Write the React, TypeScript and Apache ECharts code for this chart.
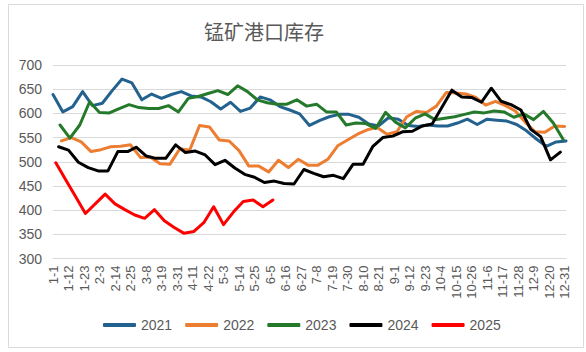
import React, { useEffect, useRef } from "react";
import * as echarts from "echarts";

const tickLabels = ["1-1","1-12","1-23","2-3","2-14","2-25","3-8","3-19","3-31","4-11","4-22","5-3","5-14","5-25","6-5","6-16","6-27","7-8","7-19","7-30","8-10","8-21","9-1","9-12","9-23","10-4","10-15","10-26","11-6","11-17","11-28","12-9","12-20","12-31"];

const dates2021 = ["1-1","1-8","1-15","1-22","1-29","2-5","2-12","2-19","2-26","3-5","3-12","3-19","3-26","4-2","4-9","4-16","4-23","4-30","5-7","5-14","5-21","5-28","6-4","6-11","6-18","6-25","7-2","7-9","7-16","7-23","7-30","8-6","8-13","8-20","8-27","9-3","9-10","9-17","9-24","10-1","10-8","10-15","10-22","10-29","11-5","11-12","11-19","11-26","12-3","12-10","12-17","12-24","12-31"];
const values2021 = [639,603,614,645,616,621,647,671,663,628,640,631,639,645,636,634,624,609,623,604,611,634,628,614,607,599,575,585,593,598,598,592,578,574,591,588,575,573,576,574,574,580,588,577,588,586,584,577,564,547,532,541,543];

const dates2022 = ["1-7","1-14","1-21","1-28","2-4","2-11","2-18","2-25","3-4","3-11","3-18","3-25","4-1","4-8","4-15","4-22","4-29","5-6","5-13","5-20","5-27","6-3","6-10","6-17","6-24","7-1","7-8","7-15","7-22","7-29","8-5","8-12","8-19","8-26","9-2","9-9","9-16","9-23","9-30","10-7","10-14","10-21","10-28","11-4","11-11","11-18","11-25","12-2","12-9","12-16","12-23","12-30"];
const values2022 = [543,550,541,521,525,531,532,535,509,510,496,495,527,524,575,572,545,543,523,491,491,479,503,488,505,493,493,505,533,545,557,566,571,557,562,593,604,602,615,643,642,640,633,617,625,616,605,582,562,561,574,573];

const dates2023 = ["1-6","1-13","1-20","1-27","2-3","2-10","2-17","2-24","3-3","3-10","3-17","3-24","3-31","4-7","4-14","4-21","4-28","5-5","5-12","5-19","5-26","6-2","6-9","6-16","6-23","6-30","7-7","7-14","7-21","7-28","8-4","8-11","8-18","8-25","9-1","9-8","9-15","9-22","9-29","10-6","10-13","10-20","10-27","11-3","11-10","11-17","11-24","12-1","12-8","12-15","12-22","12-29"];
const values2023 = [576,549,576,624,602,601,610,618,612,610,610,616,603,631,635,641,647,639,657,645,628,622,619,619,628,615,619,603,603,576,580,579,569,602,582,570,590,599,587,590,593,598,603,601,605,603,592,599,587,604,580,546];

const dates2024 = ["1-5","1-12","1-19","1-26","2-2","2-9","2-16","2-23","3-1","3-8","3-15","3-22","3-29","4-5","4-12","4-19","4-26","5-3","5-10","5-17","5-24","5-31","6-7","6-14","6-21","6-28","7-5","7-12","7-19","7-26","8-2","8-9","8-16","8-23","8-30","9-6","9-13","9-20","9-27","10-11","10-18","10-25","11-1","11-8","11-15","11-22","11-29","12-6","12-13","12-20","12-27"];
const values2024 = [531,524,499,488,481,481,521,521,530,512,507,507,535,519,522,514,494,503,487,474,468,457,460,455,454,484,476,469,472,465,495,495,532,550,553,562,563,574,578,648,634,633,623,652,625,618,607,567,552,504,520];

const dates2025 = ["1-3","1-10","1-17","1-24","2-7","2-14","2-21","2-28","3-7","3-14","3-21","3-28","4-4","4-11","4-18","4-25","5-2","5-9","5-16","5-23","5-30","6-6"];
const values2025 = [498,463,428,393,433,413,401,390,383,401,378,364,352,356,374,407,370,396,418,421,407,421];

const seriesNames = ["2021", "2022", "2023", "2024", "2025"];
const seriesColors = ["#23628f", "#ed7d31", "#25792b", "#000000", "#ff0000"];

const monthStart = [0, 31, 59, 90, 120, 151, 181, 212, 243, 273, 304, 334];
function dayOfYear(md: string): number {
  const [m, d] = md.split("-").map(Number);
  return monthStart[m - 1] + d - 1;
}
function pairs(dates: string[], values: number[]) {
  return dates.map((d, i) => [dayOfYear(d), values[i]]);
}

export default function App() {
  const ref = useRef<HTMLDivElement>(null);
  useEffect(() => {
    if (!ref.current) return;
    const chart = echarts.init(ref.current, null, { renderer: "svg" });
    const allData = [
      pairs(dates2021, values2021),
      pairs(dates2022, values2022),
      pairs(dates2023, values2023),
      pairs(dates2024, values2024),
      pairs(dates2025, values2025),
    ];
    const textColor = "#595959";
    chart.setOption({
      animation: false,
      backgroundColor: "#ffffff",
      title: {
        text: "锰矿港口库存",
        left: 204,
        top: 21,
        padding: 0,
        textStyle: {
          fontFamily: "Noto Sans CJK SC",
          fontSize: 20,
          fontWeight: "normal",
          color: textColor,
        },
      },
      graphic: [
        {
          type: "rect",
          shape: { x: 8.5, y: 4.5, width: 575, height: 343 },
          style: { fill: "none", stroke: "#d9d9d9", lineWidth: 1 },
          silent: true,
        },
      ],
      legend: {
        data: seriesNames,
        left: 103,
        top: 318,
        padding: 0,
        icon: "roundRect",
        itemWidth: 33,
        itemHeight: 4,
        itemGap: 13,
        itemTextGap: 3,
        textStyle: {
          fontFamily: "Liberation Sans",
          fontSize: 14,
          color: textColor,
        },
      },
      grid: { left: 53, top: 65, width: 513, height: 193.5 },
      xAxis: {
        type: "value",
        min: 0,
        max: 364,
        interval: 11,
        splitLine: { show: false },
        axisTick: { show: false },
        axisLine: { show: true, lineStyle: { color: "#d9d9d9", width: 1 } },
        axisLabel: {
          rotate: 90,
          margin: 7,
          fontFamily: "Liberation Sans",
          fontSize: 13,
          color: textColor,
          showMaxLabel: true,
          formatter: (v: number) =>
            v % 11 === 0 && tickLabels[v / 11] !== undefined ? tickLabels[v / 11] : "",
        },
      },
      yAxis: {
        type: "value",
        min: 300,
        max: 700,
        interval: 50,
        axisLine: { show: false },
        axisTick: { show: false },
        splitLine: { lineStyle: { color: "#d9d9d9", width: 1 } },
        axisLabel: {
          margin: 11,
          fontFamily: "Liberation Sans",
          fontSize: 14,
          color: textColor,
        },
      },
      series: seriesNames.map((name, i) => ({
        name,
        type: "line",
        data: allData[i],
        symbol: "none",
        color: seriesColors[i],
        lineStyle: { width: 3, color: seriesColors[i], cap: "round", join: "round" },
        z: 2 + i,
      })),
    });
    return () => chart.dispose();
  }, []);
  return (
    <div
      ref={ref}
      style={{ position: "absolute", left: 0, top: 0, width: 586, height: 352 }}
    />
  );
}
